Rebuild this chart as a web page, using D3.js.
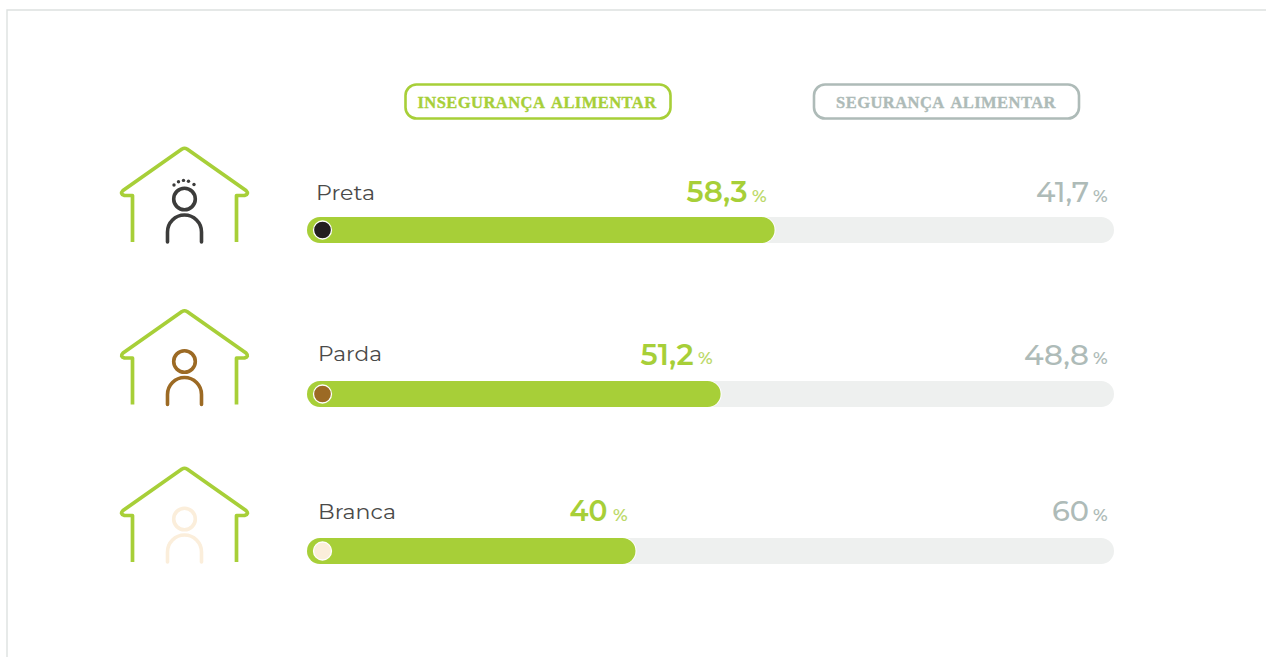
<!DOCTYPE html>
<html><head><meta charset="utf-8">
<script src="https://cdnjs.cloudflare.com/ajax/libs/d3/7.8.5/d3.min.js"></script>
<style>html,body{margin:0;padding:0;background:#fff;overflow:hidden}svg{display:block}</style>
</head><body><svg id="c" width="1266" height="657"></svg>
<script>
const categories = ["Preta","Parda","Branca"];
const inseguranca = [58.3,51.2,40];
const seguranca = [41.7,48.8,60];
const inseguroLabels = ["58,3","51,2","40"];
const seguroLabels = ["41,7","48,8","60"];
const skinColors = ["#231f20","#9c6a24","#fbeedb"];
const strokeColors = ["#3c3c3b","#9c6a24","#fbeedb"];
const legendLabels = ["INSEGURANÇA ALIMENTAR","SEGURANÇA ALIMENTAR"];

const GREEN="#a7cf38", GREY="#aebbb8", TRACK="#eef0ef";
const rowCenters=[230,394,551];
const labelX=[316,318,318];
const labelW=[59,64,78];
const numW=[61,53,38];
const numWG=[53,65,37];
const numGap=[19,19,20];
const svg=d3.select("#c");
const sans="Montserrat, Inter, 'Noto Sans', sans-serif";

svg.append("path").attr("d","M7 657V10H1266").attr("fill","none").attr("stroke","#dde1e0").attr("stroke-width",1.4);

const x=d3.scaleLinear().domain([0,100]).range([331.5,1091.5]);

const legend=[{x:405.5,w:265,c:GREEN,tx:537},{x:814,w:265,c:GREY,tx:946}];
legend.forEach((l,i)=>{
  svg.append("rect").attr("x",l.x).attr("y",84.5).attr("width",l.w).attr("height",34).attr("rx",11)
    .attr("fill","#fff").attr("stroke",l.c).attr("stroke-width",2.6);
  svg.append("text").attr("x",l.tx).attr("y",107.5).attr("text-anchor","middle")
    .attr("font-family","'Liberation Serif',serif").attr("font-weight",700).attr("font-size",16.5)
    .attr("word-spacing",3).attr("letter-spacing",0.45)
    .attr("stroke",l.c).attr("stroke-width",0.35)
    .attr("fill",l.c).text(legendLabels[i]);
});

const rows=svg.selectAll("g.row").data(categories).join("g").attr("class","row")
  .attr("transform",(d,i)=>`translate(0,${rowCenters[i]})`);

rows.each(function(d,i){
  const g=d3.select(this);
  const dy=[0,-1.5,-1][i];
  const icon=g.append("g").attr("transform",`translate(0,${dy})`);
  const house=d3.path();
  house.moveTo(132.5,12); house.lineTo(132.5,-34.5); house.lineTo(124.5,-34.5);
  house.quadraticCurveTo(119.5,-36,123,-39.5);
  house.lineTo(182,-81); house.quadraticCurveTo(184.5,-82.5,187,-81);
  house.lineTo(246,-39.5); house.quadraticCurveTo(249.5,-36,244.5,-34.5);
  house.lineTo(236.5,-34.5); house.lineTo(236.5,12);
  icon.append("path").attr("d",house.toString()).attr("fill","none").attr("stroke",GREEN).attr("stroke-width",3.7).attr("stroke-linejoin","round");
  icon.append("circle").attr("cx",184.5).attr("cy",-31).attr("r",10.8).attr("fill","none").attr("stroke",strokeColors[i]).attr("stroke-width",3.6);
  const b=d3.path();
  b.moveTo(167.5,12); b.lineTo(167.5,2); b.arc(184.5,2,17,Math.PI,0); b.lineTo(201.5,12);
  icon.append("path").attr("d",b.toString()).attr("fill","none").attr("stroke",strokeColors[i]).attr("stroke-width",3.6).attr("stroke-linecap","round");
  if(i===0){
    [[-10.5,-45],[-6,-48.3],[-1,-49.6],[4,-48.8],[9.5,-45.5]].forEach(p=>icon.append("circle").attr("cx",184.5+p[0]).attr("cy",p[1]).attr("r",1.7).attr("fill",strokeColors[0]));
  }
  g.append("rect").attr("x",307).attr("y",-13).attr("width",807).attr("height",26).attr("rx",13).attr("fill",TRACK);
  g.append("rect").attr("x",307).attr("y",-13.5).attr("width",x(inseguranca[i])-307+1).attr("height",27).attr("rx",13.5).attr("fill","#fff");
  g.append("rect").attr("x",307).attr("y",-13).attr("width",x(inseguranca[i])-307).attr("height",26).attr("rx",13).attr("fill",GREEN);
  g.append("circle").attr("cx",322.5).attr("cy",0).attr("r",9).attr("fill",skinColors[i]).attr("stroke","#fff").attr("stroke-width",1.3);
  const ty=[-30,-33,-32][i];
  g.append("text").attr("x",labelX[i]).attr("y",ty).attr("font-family",sans).attr("font-size",21).attr("fill","#4a4a49")
    .attr("textLength",labelW[i]).attr("lengthAdjust","spacingAndGlyphs").text(d);
  const vy=[-28,-29,-30.5][i];
  const py=[-28,-30,-30][i];
  const ex=x(inseguranca[i])-8;
  g.append("text").attr("x",ex).attr("y",py).attr("text-anchor","end").attr("font-family",sans).attr("font-size",17).attr("font-weight",600).attr("fill","#bcd96a").text("%");
  g.append("text").attr("x",ex-numGap[i]).attr("y",vy).attr("text-anchor","end").attr("font-family",sans).attr("font-size",28.5).attr("font-weight",600).attr("fill",GREEN)
    .attr("textLength",numW[i]).attr("lengthAdjust","spacingAndGlyphs").text(inseguroLabels[i]);
  g.append("text").attr("x",1107.5).attr("y",py).attr("text-anchor","end").attr("font-family",sans).attr("font-size",17).attr("font-weight",600).attr("fill",GREY).text("%");
  g.append("text").attr("x",1089).attr("y",vy).attr("text-anchor","end").attr("font-family",sans).attr("font-size",28.5).attr("font-weight",500).attr("fill",GREY)
    .attr("textLength",numWG[i]).attr("lengthAdjust","spacingAndGlyphs").text(seguroLabels[i]);
});
</script></body></html>
